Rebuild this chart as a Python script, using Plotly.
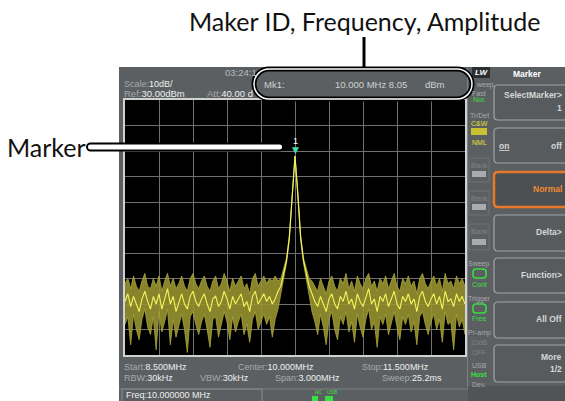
import plotly.graph_objects as go
import numpy as np

# ---------------- data ----------------
start_mhz = 8.5
stop_mhz = 11.5
ref_dbm = 30
scale_db = 10

trace_mid = [
    -49, -46, -51, -47, -50, -53, -48, -45, -49, -52,
    -47, -50, -46, -52, -48, -44, -50, -47, -53, -49,
    -46, -50, -52, -47, -45, -49, -51, -48, -46, -50,
    -53, -48, -47, -51, -49, -45, -48, -52, -47, -50,
    -48, -46, -51, -49, -53, -47, -45, -50, -48, -46,
    -49, -47, -50, -48,
    -45, -43, -38, -33, -24, -7, 8.05, -7, -24, -33, -38, -43, -46,
    -49, -51, -47, -50, -53, -48, -46, -50, -52, -47,
    -49, -45, -50, -48, -52, -46, -49, -51, -47, -44,
    -50, -48, -53, -47, -49, -46, -51, -48, -45, -50,
    -52, -47, -49, -46, -50, -48, -53, -47, -45, -49,
    -51, -48, -46, -50, -47, -52, -45, -49, -48, -51,
    -46, -49, -47, -50,
]
trace_upper = [
    -42, -40, -44, -39, -43, -45, -41, -38, -43, -44,
    -40, -43, -39, -45, -41, -38, -43, -40, -44, -42,
    -39, -43, -45, -40, -38, -42, -44, -41, -39, -43,
    -45, -41, -39, -44, -42, -38, -41, -45, -40, -43,
    -41, -39, -44, -42, -46, -40, -38, -43, -41, -39,
    -42, -40, -41, -39,
    -41, -40, -36, -32, -23, -6, 8.05, -6, -23, -32, -36, -40, -41,
    -43, -45, -40, -43, -46, -41, -39, -43, -45, -40,
    -42, -38, -44, -41, -45, -39, -42, -44, -40, -38,
    -43, -41, -45, -40, -42, -39, -44, -41, -38, -43,
    -45, -40, -42, -39, -43, -41, -46, -40, -38, -42,
    -44, -41, -39, -43, -40, -45, -38, -42, -41, -44,
    -39, -42, -40, -43,
]
trace_lower = [
    -58, -55, -66, -54, -60, -64, -56, -52, -59, -62,
    -55, -68, -53, -61, -57, -52, -66, -56, -63, -58,
    -54, -60, -69, -55, -53, -58, -62, -57, -54, -60,
    -67, -56, -55, -63, -58, -53, -57, -64, -55, -61,
    -57, -54, -62, -58, -65, -56, -53, -60, -57, -54,
    -58, -55, -63, -56,
    -52, -46, -40, -34, -25, -8, 8.05, -8, -25, -34, -40, -46, -53,
    -57, -62, -54, -59, -66, -56, -53, -60, -64, -55,
    -58, -53, -61, -57, -65, -54, -59, -63, -56, -52,
    -60, -57, -67, -55, -58, -54, -62, -57, -53, -59,
    -64, -55, -58, -54, -61, -57, -66, -55, -53, -58,
    -62, -57, -54, -60, -56, -65, -53, -58, -57, -68,
    -54, -59, -56, -62,
]
freq = np.linspace(start_mhz, stop_mhz, len(trace_mid))

marker_id = "1"
marker_freq = 10.0
marker_amp = 8.05

# ---------------- geometry helpers (pixel -> paper) ----------------
W, H = 565, 401
L, R, T, B = 125, 465, 100, 355


def px(x):
    return (x - L) / (R - L)


def py(y):
    return (B - y) / (B - T)


def P(x, y):
    return f"{px(x):.5f},{py(y):.5f}"


def pill_path(x0, y0, x1, y1):
    r = (y1 - y0) / 2
    k = 0.5523 * r
    ym = (y0 + y1) / 2
    return (f"M{P(x0 + r, y0)} L{P(x1 - r, y0)} "
            f"C{P(x1 - r + k, y0)} {P(x1, ym - k)} {P(x1, ym)} "
            f"C{P(x1, ym + k)} {P(x1 - r + k, y1)} {P(x1 - r, y1)} "
            f"L{P(x0 + r, y1)} "
            f"C{P(x0 + r - k, y1)} {P(x0, ym + k)} {P(x0, ym)} "
            f"C{P(x0, ym - k)} {P(x0 + r - k, y0)} {P(x0 + r, y0)} Z")


def rrect_path(x0, y0, x1, y1, r=4):
    return (f"M{P(x0 + r, y0)} L{P(x1 - r, y0)} Q{P(x1, y0)} {P(x1, y0 + r)} "
            f"L{P(x1, y1 - r)} Q{P(x1, y1)} {P(x1 - r, y1)} "
            f"L{P(x0 + r, y1)} Q{P(x0, y1)} {P(x0, y1 - r)} "
            f"L{P(x0, y0 + r)} Q{P(x0, y0)} {P(x0 + r, y0)} Z")


shapes = []
annos = []


def rect(x0, y0, x1, y1, fill=None, line=None, lw=1, layer="below"):
    shapes.append(dict(type="rect", xref="paper", yref="paper",
                       x0=px(x0), x1=px(x1), y0=py(y1), y1=py(y0),
                       fillcolor=fill or "rgba(0,0,0,0)",
                       line=dict(color=line or "rgba(0,0,0,0)", width=lw if line else 0),
                       layer=layer))


def path(p, fill=None, line=None, lw=1, layer="above"):
    shapes.append(dict(type="path", xref="paper", yref="paper", path=p,
                       fillcolor=fill or "rgba(0,0,0,0)",
                       line=dict(color=line or "rgba(0,0,0,0)", width=lw if line else 0),
                       layer=layer))


def seg(x0, y0, x1, y1, color, lw=1, layer="above"):
    shapes.append(dict(type="line", xref="paper", yref="paper",
                       x0=px(x0), x1=px(x1), y0=py(y0), y1=py(y1),
                       line=dict(color=color, width=lw), layer=layer))


SF = "Liberation Sans, Arial, sans-serif"
LAB = "#a6aaac"
VAL = "#eef0f0"
GRN = "#38e040"
YEL = "#e8e23a"


def txt(x, y, s, color=VAL, size=9, anchor="left", family=SF):
    annos.append(dict(xref="paper", yref="paper", x=px(x), y=py(y), text=s,
                      showarrow=False, xanchor=anchor, yanchor="middle",
                      font=dict(family=family, size=size, color=color)))


def lv(label, value):
    return f'<span style="color:{LAB}">{label}</span>{value}'


# ---------------- instrument screen ----------------
SCREEN = "#5b5f61"
rect(119, 67, 575, 410, fill=SCREEN)
rect(L, T, R, B, fill="#000000")
rect(468, 386, 575, 410, fill="#505456")

# plot frame
rect(L - 1, T - 1, R + 1, B + 1, line="#d0d2d2", lw=2, layer="above")

# top-left info
txt(223, 73, "03:24:1", "#b8bbbd", 9.5)
txt(122, 84, lv("Scale:", "10dB/"), VAL, 9)
txt(122, 93, lv("Ref:", "30.00dBm"), VAL, 9.5)
txt(205, 93, lv("Att:", "40.00 d"), VAL, 9.5)

# marker readout box contents
txt(262, 84, "Mk1:", "#cfd2d3", 9.5)
txt(333, 84, "10.000 MHz 8.05", "#cfd2d3", 9.5)
txt(423, 84, "dBm", "#cfd2d3", 9.5)

# bottom info
txt(122, 367, lv("Start:", "8.500MHz"), VAL, 9)
txt(236, 367, lv("Center:", "10.000MHz"), VAL, 9)
txt(360, 367, lv("Stop:", "11.500MHz"), VAL, 9)
txt(122, 378, lv("RBW:", "30kHz"), VAL, 9)
txt(198, 378, lv("VBW:", "30kHz"), VAL, 9)
txt(273, 378, lv("Span:", "3.000MHz"), VAL, 9)
txt(380, 378, lv("Sweep:", "25.2ms"), VAL, 9)

# freq status bar
rect(122, 389, 262, 410, line="#8c9092", lw=1, layer="above")
seg(119, 389, 468, 389, "#7c8082", 1)
txt(124, 395.5, "Freq:10.000000 MHz", VAL, 9)
txt(313, 392, "AC", GRN, 5)
txt(325, 392, "USB", GRN, 5)
rect(312, 396, 318, 401, fill=GRN, layer="above")
rect(325, 396, 333, 401, fill=GRN, layer="above")

# right status column
seg(467.5, 67, 467.5, 388, "#7c8082", 1)
rect(472, 67, 490, 78, fill="#2c2f31", layer="above")
txt(481, 72.5, "<b><i>LW</i></b>", "#ffffff", 8, "center")
txt(474, 85, "weep", LAB, 7)
txt(479, 93, "Fast", LAB, 7, "center")
txt(479, 99.5, "Nor.", GRN, 7, "center")
txt(479, 115, "Tr/Det", LAB, 7, "center")
txt(479, 123, "C&W", YEL, 7, "center")
rect(471, 128, 487, 135, fill="#c8c232", layer="above")
txt(479, 142, "NML", YEL, 7, "center")
for ty, by in [(165, 174), (198, 207), (231, 242)]:
    rect(469, ty - 7, 489, by + 8, line="#6e7274", lw=1, layer="above")
    txt(479, ty, "Blank", "#80848a", 6.5, "center")
    rect(472, by - 3, 486, by + 3, fill="#a9acae", layer="above")
txt(479, 264, "Sweep", LAB, 7, "center")
path(rrect_path(473, 269, 486, 278, 3), line=GRN, lw=1.5)
txt(479, 284, "Cont", GRN, 7, "center")
txt(479, 299, "Trigger", LAB, 7, "center")
path(rrect_path(473, 304, 486, 313, 3), line=GRN, lw=1.5)
txt(479, 318, "Free", GRN, 7, "center")
txt(479, 333, "Pr-amp", LAB, 7, "center")
txt(479, 342, "20dB", "#7e8284", 7, "center")
txt(479, 352, "OFF", "#7e8284", 7, "center")
txt(479, 365, "USB", LAB, 7, "center")
txt(479, 374, "<b>Host</b>", GRN, 7, "center")
txt(479, 384, "Dev.", LAB, 7, "center")

# softkeys
BTN_FILL = "#575b5d"
BTN_LINE = "#a2a6a8"
KEY = "#d4d7d8"
txt(527, 74, "<b>Marker</b>", "#ffffff", 8.5, "center")
buttons = [(85, 120), (128, 163), (172, 207), (215, 251), (258, 293), (302, 338), (345, 382)]
for i, (y0, y1) in enumerate(buttons):
    if i == 2:
        path(rrect_path(494, y0, 580, y1, 4), fill="#4c5052", line="#e8782a", lw=2.5)
    else:
        path(rrect_path(494, y0, 580, y1, 4), fill=BTN_FILL, line=BTN_LINE, lw=1.2)
txt(564, 95, "<b>SelectMarker&gt;</b>", KEY, 8.5, "right")
txt(564, 108, "<b>1</b>", KEY, 8.5, "right")
txt(497, 146, "<b><u>on</u></b>", KEY, 8.5, "left")
txt(564, 146, "<b>off</b>", KEY, 8.5, "right")
txt(564, 189, "<b>Normal</b>", "#f08a30", 8.5, "right")
txt(564, 232, "<b>Delta&gt;</b>", KEY, 8.5, "right")
txt(564, 275, "<b>Function&gt;</b>", KEY, 8.5, "right")
txt(564, 319, "<b>All Off</b>", KEY, 8.5, "right")
txt(564, 357, "<b>More</b>", KEY, 8.5, "right")
txt(564, 369, "<b>1/2</b>", KEY, 8.5, "right")

# ---------------- callouts ----------------
AF = "Lato, Noto Sans, sans-serif"
txt(364.5, 21, "Maker ID, Frequency, Amplitude", "#111111", 25, "center", AF)
seg(364, 37, 364, 69, "#000000", 3)
path(pill_path(254, 69, 472, 99), line="#000000", lw=5)
path(pill_path(254, 69, 472, 99), line="#ffffff", lw=1.5)

txt(46.5, 147, "Marker", "#111111", 25, "center", AF)
path(pill_path(87, 143.5, 283, 150.5), fill="#ffffff", line="#000000", lw=2)

# ---------------- figure ----------------
fig = go.Figure()
band = "rgba(150,146,48,0.9)"
edge = "rgba(175,170,60,0.95)"
fig.add_trace(go.Scatter(x=freq, y=trace_lower, mode="lines",
                         line=dict(color=edge, width=0.8), hoverinfo="skip"))
fig.add_trace(go.Scatter(x=freq, y=trace_upper, mode="lines", fill="tonexty",
                         fillcolor=band, line=dict(color=edge, width=0.8), hoverinfo="skip"))
fig.add_trace(go.Scatter(x=freq, y=trace_mid, mode="lines",
                         line=dict(color="#f6f45c", width=1.1), hoverinfo="skip"))

annos.append(dict(x=marker_freq, y=marker_amp, xref="x", yref="y", text="▼",
                  showarrow=False, yanchor="bottom", yshift=-1,
                  font=dict(family="DejaVu Sans", size=9, color="#45dba5")))
annos.append(dict(x=marker_freq, y=marker_amp, xref="x", yref="y", text=marker_id,
                  showarrow=False, yanchor="bottom", yshift=8,
                  font=dict(family=SF, size=9, color="#ffffff")))

fig.update_layout(
    width=W, height=H,
    margin=dict(l=L, r=W - R, t=T, b=H - B, pad=0),
    paper_bgcolor="#ffffff",
    plot_bgcolor="#000000",
    showlegend=False,
    shapes=shapes,
    annotations=annos,
    xaxis=dict(range=[start_mhz, stop_mhz], tick0=start_mhz, dtick=(stop_mhz - start_mhz) / 10,
               showgrid=True, gridcolor="#707070", gridwidth=1, zeroline=False,
               showticklabels=False, ticks="", fixedrange=True),
    yaxis=dict(range=[ref_dbm - 10 * scale_db, ref_dbm], tick0=ref_dbm, dtick=scale_db,
               showgrid=True, gridcolor="#707070", gridwidth=1, zeroline=False,
               showticklabels=False, ticks="", fixedrange=True),
)

fig.write_html("out.html", config={"displayModeBar": False},
               post_script="document.body.style.margin='0';document.body.style.overflow='hidden';")
